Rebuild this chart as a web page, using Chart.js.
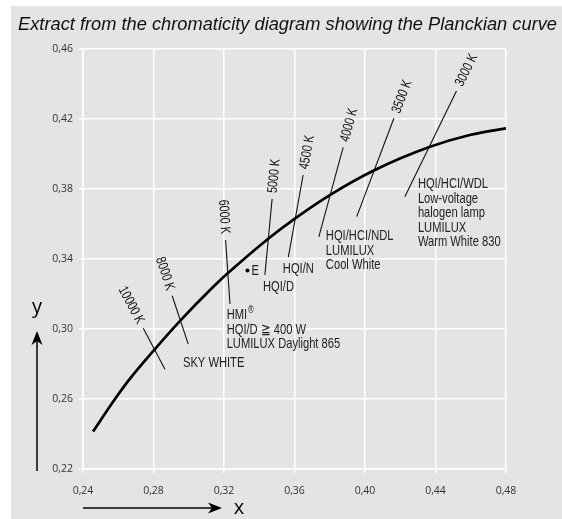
<!DOCTYPE html>
<html>
<head>
<meta charset="utf-8">
<script src="https://cdn.jsdelivr.net/npm/chart.js@4"></script>
<style>
  body { margin: 0; background: #fff; }
  #wrap { width: 562px; height: 519px; }
</style>
</head>
<body>
<div id="wrap"><canvas id="planckChart" width="562" height="519"></canvas></div>
<script>
// Planckian curve (x, y chromaticity)
const curveX = [0.2457, 0.2560, 0.2661, 0.2807, 0.2952, 0.3135, 0.3221, 0.3451, 0.3608, 0.3805, 0.4053, 0.4369, 0.4600, 0.4811];
const curveY = [0.2414, 0.2569, 0.2709, 0.2884, 0.3048, 0.3237, 0.3318, 0.3516, 0.3635, 0.3768, 0.3907, 0.4041, 0.4110, 0.4149];

// isotemperature lines: lower end (x1, y1) and upper end (x2, y2)
const isoLabels = ['10000 K', '8000 K', '6000 K', '5000 K', '4500 K', '4000 K', '3500 K', '3000 K'];
const isoX1 = [0.2865, 0.2997, 0.3234, 0.3432, 0.3565, 0.3738, 0.3953, 0.4226];
const isoY1 = [0.2770, 0.2914, 0.3143, 0.3309, 0.3411, 0.3527, 0.3642, 0.3756];
const isoX2 = [0.2742, 0.2906, 0.3209, 0.3473, 0.3649, 0.3876, 0.4164, 0.4519];
const isoY2 = [0.3004, 0.3190, 0.3509, 0.3743, 0.3880, 0.4038, 0.4204, 0.4360];

// lamp notes, anchored at their first line
const lampText = [
  ['SKY WHITE'],
  ['HMI®', 'HQI/D ≧ 400 W', 'LUMILUX Daylight 865'],
  ['HQI/D'],
  ['HQI/N'],
  ['HQI/HCI/NDL', 'LUMILUX', 'Cool White'],
  ['HQI/HCI/WDL', 'Low-voltage', 'halogen lamp', 'LUMILUX', 'Warm White 830']
];
const lampX = [0.2967, 0.3215, 0.3421, 0.3534, 0.3778, 0.4300];
const lampY = [0.2806, 0.3080, 0.3240, 0.3343, 0.3531, 0.3829];

// equal energy point E
const pointEX = [0.3333];
const pointEY = [0.3335];

const xTicks = [0.24, 0.28, 0.32, 0.36, 0.40, 0.44, 0.48];
const xTickLabels = ['0,24', '0,28', '0,32', '0,36', '0,40', '0,44', '0,48'];
const yTicks = [0.22, 0.26, 0.30, 0.34, 0.38, 0.42, 0.46];
const yTickLabels = ['0,22', '0,26', '0,30', '0,34', '0,38', '0,42', '0,46'];

const chartTitle = 'Extract from the chromaticity diagram showing the Planckian curve';
const sansFam = '"Liberation Sans", Arial, sans-serif';
const squeeze = 0.77; // condensed look for the notes

const datasets = [{
  data: curveX.map((v, i) => ({ x: v, y: curveY[i] })),
  showLine: true,
  borderColor: '#000',
  borderWidth: 2.7,
  pointRadius: 0,
  cubicInterpolationMode: 'monotone'
}];
isoLabels.forEach((lbl, i) => {
  datasets.push({
    data: [{ x: isoX1[i], y: isoY1[i] }, { x: isoX2[i], y: isoY2[i] }],
    showLine: true,
    borderColor: '#111',
    borderWidth: 1.1,
    pointRadius: 0
  });
});
datasets.push({
  data: pointEX.map((v, i) => ({ x: v, y: pointEY[i] })),
  pointRadius: 2,
  backgroundColor: '#000',
  borderWidth: 0
});

function arrowHead(ctx, tipX, tipY, dirX, dirY) {
  const len = 14, half = 5.5, notch = 4;
  const nx = -dirY, ny = dirX;
  ctx.beginPath();
  ctx.moveTo(tipX, tipY);
  ctx.lineTo(tipX - dirX * len + nx * half, tipY - dirY * len + ny * half);
  ctx.lineTo(tipX - dirX * (len - notch), tipY - dirY * (len - notch));
  ctx.lineTo(tipX - dirX * len - nx * half, tipY - dirY * len - ny * half);
  ctx.closePath();
  ctx.fill();
}

// text squeezed horizontally, drawn left-aligned from (x, y)
function narrowText(ctx, text, x, y) {
  ctx.save();
  ctx.translate(x, y);
  ctx.scale(squeeze, 1);
  if (text.endsWith('®')) {
    const base = text.slice(0, -1);
    ctx.fillText(base, 0, 0);
    const w = ctx.measureText(base).width;
    const f = ctx.font;
    ctx.font = '10px ' + sansFam;
    ctx.fillText('®', w + 1, -5);
    ctx.font = f;
  } else {
    ctx.fillText(text, 0, 0);
  }
  ctx.restore();
}

const decor = {
  id: 'decor',
  beforeDraw(chart) {
    const ctx = chart.ctx;
    ctx.save();
    ctx.fillStyle = '#fff';
    ctx.fillRect(0, 0, chart.width, chart.height);
    ctx.fillStyle = '#e3e4e3';
    ctx.fillRect(11, 6, chart.width - 11, chart.height - 6);
    ctx.restore();
  },
  afterDraw(chart) {
    const { ctx, scales } = chart;
    const sx = scales.x, sy = scales.y;
    ctx.save();

    // title: condensed italic, squeezed to its width in the reference
    ctx.fillStyle = '#111';
    ctx.font = 'italic 19px ' + sansFam;
    ctx.textAlign = 'left';
    ctx.textBaseline = 'middle';
    const tw = ctx.measureText(chartTitle).width;
    ctx.save();
    ctx.translate(18, 25);
    ctx.scale(539 / tw, 1);
    ctx.fillText(chartTitle, 0, 0);
    ctx.restore();

    // axis arrows
    ctx.strokeStyle = '#000';
    ctx.fillStyle = '#000';
    ctx.lineWidth = 1.5;
    ctx.beginPath();
    ctx.moveTo(37, 471);
    ctx.lineTo(37, 340);
    ctx.stroke();
    arrowHead(ctx, 37, 331, 0, -1);
    ctx.beginPath();
    ctx.moveTo(83, 508);
    ctx.lineTo(212, 508);
    ctx.stroke();
    arrowHead(ctx, 222, 508, 1, 0);
    ctx.font = '20px "Open Sans", sans-serif';
    ctx.textAlign = 'center';
    ctx.fillText('y', 37, 307);
    ctx.fillText('x', 239, 508);

    // isotemperature labels, along their lines
    ctx.fillStyle = '#111';
    ctx.font = '14px ' + sansFam;
    isoLabels.forEach((lbl, i) => {
      const x0 = sx.getPixelForValue(isoX1[i]), y0 = sy.getPixelForValue(isoY1[i]);
      const x1 = sx.getPixelForValue(isoX2[i]), y1 = sy.getPixelForValue(isoY2[i]);
      const d = Math.hypot(x1 - x0, y1 - y0);
      const ux = (x1 - x0) / d, uy = (y1 - y0) / d;
      const w = ctx.measureText(lbl).width * squeeze;
      const off = 6 + w / 2;
      const cx = x1 + ux * off, cy = y1 + uy * off;
      const ang = ux >= 0 ? Math.atan2(uy, ux) : Math.atan2(-uy, -ux);
      ctx.save();
      ctx.translate(cx, cy);
      ctx.rotate(ang);
      ctx.scale(squeeze, 1);
      ctx.textAlign = 'center';
      ctx.textBaseline = 'middle';
      ctx.fillText(lbl, 0, 0);
      ctx.restore();
    });

    // lamp notes
    ctx.fillStyle = '#222';
    ctx.font = '14.5px ' + sansFam;
    ctx.textAlign = 'left';
    ctx.textBaseline = 'middle';
    lampText.forEach((lines, i) => {
      const px = sx.getPixelForValue(lampX[i]);
      const py = sy.getPixelForValue(lampY[i]);
      lines.forEach((t, k) => narrowText(ctx, t, px, py + k * 14.6));
    });

    // E label next to the point
    narrowText(ctx, 'E', sx.getPixelForValue(pointEX[0]) + 4, sy.getPixelForValue(pointEY[0]) + 1);
    ctx.restore();
  }
};

const tickFont = { family: '"Open Sans", sans-serif', size: 10.5 };

new Chart(document.getElementById('planckChart'), {
  type: 'scatter',
  data: { datasets: datasets },
  options: {
    responsive: false,
    animation: false,
    layout: { padding: { top: 49, right: 56, bottom: 0, left: 0 } },
    plugins: {
      legend: { display: false },
      tooltip: { enabled: false },
      title: { display: false }
    },
    scales: {
      x: {
        type: 'linear',
        min: 0.24,
        max: 0.48,
        afterBuildTicks: (scale) => { scale.ticks = xTicks.map(v => ({ value: v })); },
        afterFit: (scale) => { scale.height = 50; },
        grid: { color: '#fff', lineWidth: 1.5, tickLength: 4, tickColor: '#fff' },
        border: { color: '#fff', width: 1.5 },
        ticks: {
          color: '#333',
          font: tickFont,
          padding: 12,
          maxRotation: 0,
          callback: (v, i) => xTickLabels[i]
        }
      },
      y: {
        type: 'linear',
        min: 0.22,
        max: 0.46,
        afterBuildTicks: (scale) => { scale.ticks = yTicks.map(v => ({ value: v })); },
        afterFit: (scale) => { scale.width = 83; },
        grid: { color: '#fff', lineWidth: 1.5, tickLength: 4, tickColor: '#fff' },
        border: { color: '#fff', width: 1.5 },
        ticks: {
          color: '#333',
          font: tickFont,
          padding: 6,
          callback: (v, i) => yTickLabels[i]
        }
      }
    }
  },
  plugins: [decor]
});
</script>
</body>
</html>
